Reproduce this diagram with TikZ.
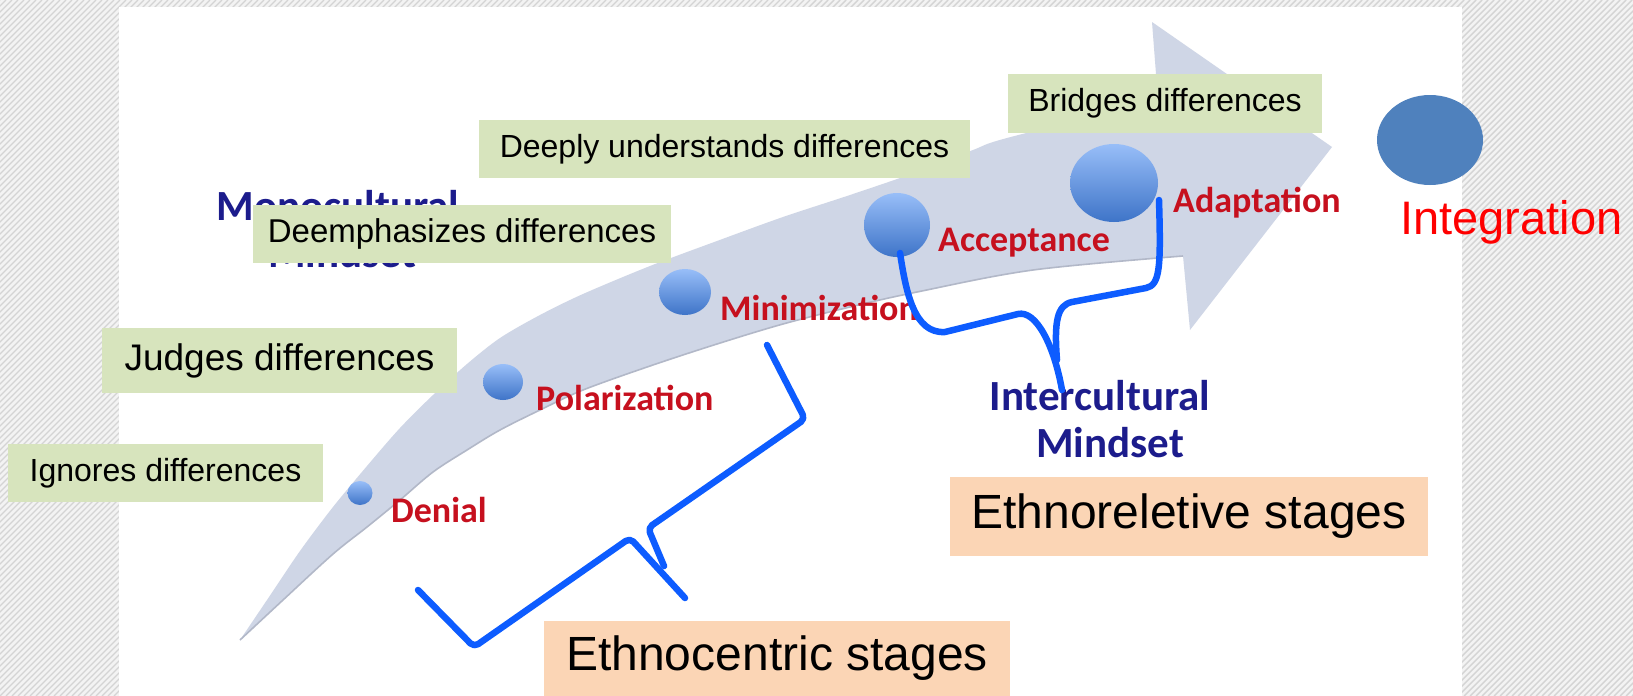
\documentclass[tikz,border=0pt]{standalone}
\usepackage{fontspec}
\setmainfont{Liberation Sans}
\newfontfamily\carl{Carlito}
\usetikzlibrary{shapes.geometric}
\definecolor{bgcol}{RGB}{243,243,243}
\definecolor{hatchcol}{RGB}{212,212,212}
\definecolor{bandcol}{RGB}{207,214,230}
\definecolor{bandedge}{RGB}{178,184,200}
\definecolor{greenc}{RGB}{215,228,189}
\definecolor{orangec}{RGB}{251,213,181}
\definecolor{stagered}{RGB}{198,16,30}
\definecolor{navyc}{RGB}{28,28,140}
\definecolor{bracec}{RGB}{13,92,255}
\definecolor{ellblue}{RGB}{79,129,189}
\definecolor{balltop}{RGB}{152,190,248}
\definecolor{ballbot}{RGB}{62,116,200}
\tikzset{
  gbox/.style={fill=greenc, inner sep=0pt, text=black, font={\fontsize{32}{38}\selectfont}},
  obox/.style={fill=orangec, inner sep=0pt, text=black, font={\fontsize{48}{56}\selectfont}},
  stage/.style={text=stagered, anchor=base west, inner sep=0pt, font={\carl\bfseries\fontsize{36}{40}\selectfont}},
  mind/.style={text=navyc, anchor=base, inner sep=0pt, font={\carl\bfseries\fontsize{43}{47}\selectfont}},
  ball/.style={ellipse, inner sep=0pt, top color=balltop, bottom color=ballbot, draw=none},
  bracestroke/.style={draw=bracec, line width=6.5pt, line cap=round, line join=round},
}
\begin{document}
\begin{tikzpicture}[x=1pt,y=-1pt]
\useasboundingbox (0,0) rectangle (1633,696);
% hatched background
\fill[bgcol] (0,0) rectangle (1633,696);
\begin{scope}
\clip (0,0) rectangle (1633,696);
\foreach \i in {-702,-696,...,1640} \draw[hatchcol, line width=1.4pt] (\i,696) -- (\i+696,0);
\end{scope}
\fill[white] (119,7) rectangle (1462,696);
% curved arrow band
\fill[bandcol] plot[smooth, tension=0.5] coordinates {(240,640) (267,600) (300,551) (333,507) (367,466) (400,428) (433,395) (467,364) (500,338) (540,315) (583,294) (650,266) (717,241) (783,217) (850,195) (917,172) (973,150) (1007,138) (1158,100)}
  -- (1152,22) -- (1332,147) -- (1190,330) -- (1183,256)
  -- plot[smooth, tension=0.55] coordinates {(1183,256) (1033,270) (917,292) (850,307) (783,324) (717,344) (650,366) (583,390) (540,410) (500,430) (467,450) (433,472) (400,500) (367,527) (333,554) (283,600) (240,640)}
  -- cycle;
\draw[bandedge, line width=1.6pt] plot[smooth, tension=0.55] coordinates {(1183,256) (1033,270) (917,292) (850,307) (783,324) (717,344) (650,366) (583,390) (540,410) (500,430) (467,450) (433,472) (400,500) (367,527) (333,554) (283,600) (240,640)};
% balls
\node[ball, minimum width=25pt, minimum height=24pt] (bden) at (360,493) {};
\node[ball, minimum width=40pt, minimum height=36pt] (bpol) at (503,382) {};
\node[ball, minimum width=52pt, minimum height=46pt] (bmin) at (685,292) {};
\node[ball, minimum width=66pt, minimum height=64pt] (bacc) at (897,225) {};
\node[ball, minimum width=88pt, minimum height=78pt] (bada) at (1114,183) {};
% stage labels
\node[stage] (lden) at (391,522) {Denial};
\node[stage] (lpol) at (536,410) {Polarization};
\node[stage] (lmin) at (720,320) {Minimization};
\node[stage] (lacc) at (938,251) {Acceptance};
\node[stage] (lada) at (1173,212) {Adaptation};
% mindset labels
\node[mind] (mono1) at (338,220) {Monocultural};
\node[mind] (mono2) at (342,267) {Mindset};
\node[mind] (inter1) at (1100,410) {Intercultural};
\node[mind] (inter2) at (1110,457) {Mindset};
% braces
\draw[bracestroke, rounded corners=5pt] (418,590) -- (474,647) -- (630,538) -- (685,598);
\draw[bracestroke, rounded corners=5pt] (664,566) -- (648,528) -- (805,419) -- (767,345);
\draw[bracestroke] (900,253) .. controls (906,292) and (914,334) .. (945,332) -- (1018,314) .. controls (1036,310) and (1054,345) .. (1062,390);
\draw[bracestroke] (1057,360) .. controls (1054,322) and (1057,305) .. (1072,302) -- (1146,288) .. controls (1160,285) and (1161,268) .. (1159,200);
% green boxes
\node[gbox, minimum width=314pt, minimum height=59pt] (bridges) at (1165,103.5) {Bridges differences};
\node[gbox, minimum width=491pt, minimum height=58pt] (deeply) at (724.5,149) {Deeply understands differences};
\node[gbox, minimum width=418pt, minimum height=58pt, font={\fontsize{33}{38}\selectfont}] (deemph) at (462,234) {Deemphasizes differences};
\node[gbox, minimum width=355pt, minimum height=65pt, font={\fontsize{37}{42}\selectfont}] (judges) at (279.5,360.5) {Judges differences};
\node[gbox, minimum width=315pt, minimum height=58pt] (ignores) at (165.5,473) {Ignores differences};
% orange boxes
\node[obox, minimum width=478pt, minimum height=79pt] (erel) at (1189,516.5) {Ethnoreletive stages};
\node[obox, minimum width=466pt, minimum height=75pt] (ecen) at (777,658.5) {Ethnocentric stages};
% integration
\node[ellipse, fill=ellblue, minimum width=106pt, minimum height=90pt, inner sep=0pt] (integ) at (1430,140) {};
\node[text={rgb,255:red,255;green,0;blue,0}, anchor=base west, inner sep=0pt, font={\fontsize{47}{52}\selectfont}] (integt) at (1400,234) {Integration};
\end{tikzpicture}
\end{document}
